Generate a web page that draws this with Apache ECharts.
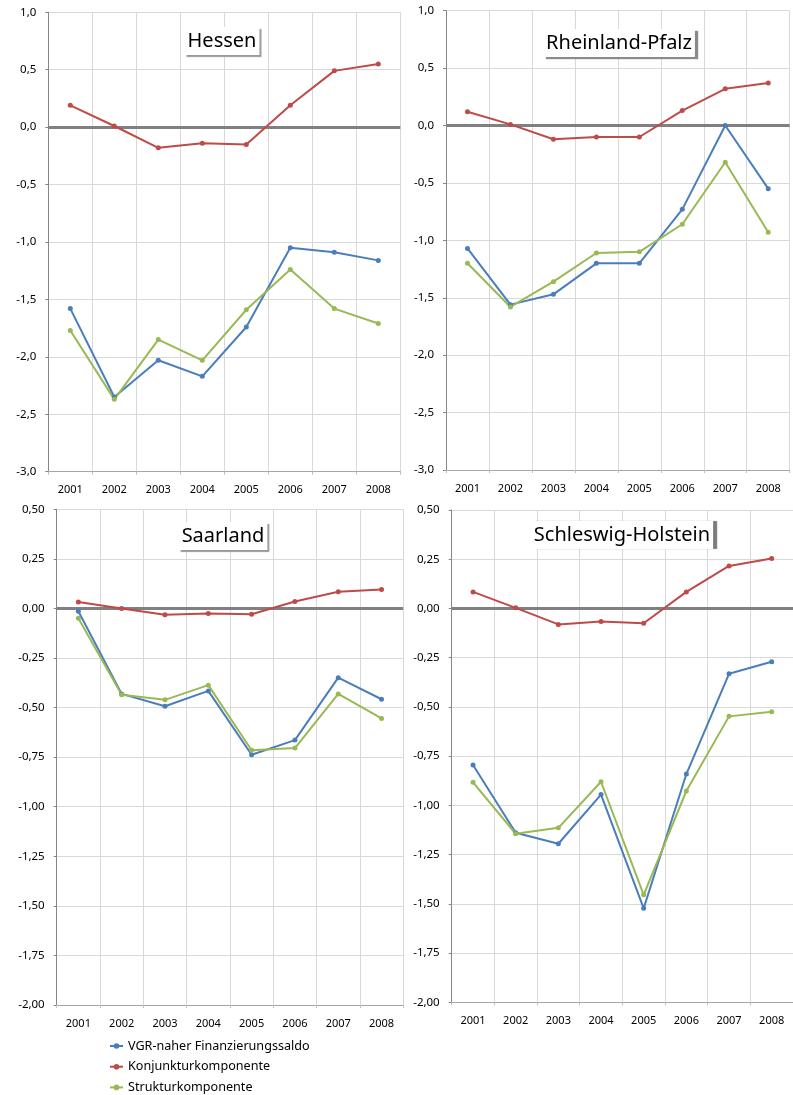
<!DOCTYPE html>
<html>
<head>
<meta charset="utf-8">
<script src="https://cdn.jsdelivr.net/npm/echarts@6/dist/echarts.min.js"></script>
<style>
  html, body { margin: 0; padding: 0; background: #ffffff; }
  #chart { width: 793px; height: 1095px; }
</style>
</head>
<body>
<div id="chart"></div>
<script>
// Years on the category axis
const years = ['2001', '2002', '2003', '2004', '2005', '2006', '2007', '2008'];

// Series names (shared legend)
const seriesNames = ['VGR-naher Finanzierungssaldo', 'Konjunkturkomponente', 'Strukturkomponente'];

// Hessen
const hessenSaldo      = [-1.58, -2.35, -2.03, -2.17, -1.74, -1.05, -1.09, -1.16];
const hessenKonjunktur = [ 0.19,  0.01, -0.18, -0.14, -0.15,  0.19,  0.49,  0.55];
const hessenStruktur   = [-1.77, -2.37, -1.85, -2.03, -1.59, -1.24, -1.58, -1.71];

// Rheinland-Pfalz
const rlpSaldo      = [-1.07, -1.56, -1.47, -1.20, -1.20, -0.73,  0.00, -0.55];
const rlpKonjunktur = [ 0.12,  0.01, -0.12, -0.10, -0.10,  0.13,  0.32,  0.37];
const rlpStruktur   = [-1.20, -1.58, -1.36, -1.11, -1.10, -0.86, -0.32, -0.93];

// Saarland
const saarSaldo      = [-0.014, -0.431, -0.493, -0.416, -0.738, -0.664, -0.349, -0.458];
const saarKonjunktur = [ 0.033,  0.000, -0.032, -0.025, -0.029,  0.035,  0.084,  0.096];
const saarStruktur   = [-0.049, -0.435, -0.461, -0.387, -0.715, -0.704, -0.431, -0.555];

// Schleswig-Holstein
const shSaldo      = [-0.795, -1.139, -1.195, -0.945, -1.523, -0.841, -0.332, -0.271];
const shKonjunktur = [ 0.084,  0.003, -0.081, -0.066, -0.075,  0.084,  0.216,  0.254];
const shStruktur   = [-0.883, -1.144, -1.114, -0.880, -1.454, -0.927, -0.548, -0.525];

const colors = ['#4A7EBB', '#BE4B48', '#98B954'];
const FONT = 'Noto Sans';

const panels = [
  { name: 'Hessen', data: [hessenSaldo, hessenKonjunktur, hessenStruktur],
    min: -3, max: 1, interval: 0.5, decimals: 1,
    grid: { left: 48.3, top: 12.3, width: 352, height: 459.4 },
    title: { x: 219, y: 27, dx: 2, dy: 2, shadow: '#9a9a9a' } },
  { name: 'Rheinland-Pfalz', data: [rlpSaldo, rlpKonjunktur, rlpStruktur],
    min: -3, max: 1, interval: 0.5, decimals: 1,
    grid: { left: 446, top: 10.7, width: 343.7, height: 459.3 },
    title: { x: 616, y: 29, dx: 3, dy: 2, shadow: '#8a8a8a' } },
  { name: 'Saarland', data: [saarSaldo, saarKonjunktur, saarStruktur],
    min: -2, max: 0.5, interval: 0.25, decimals: 2,
    grid: { left: 56.7, top: 509.3, width: 346.5, height: 495.7 },
    title: { x: 220, y: 522, dx: 2, dy: 2, shadow: '#9a9a9a' } },
  { name: 'Schleswig-Holstein', data: [shSaldo, shKonjunktur, shStruktur],
    min: -2, max: 0.5, interval: 0.25, decimals: 2,
    grid: { left: 451.7, top: 510, width: 346.3, height: 492.3 },
    title: { x: 619, y: 521, dx: 4, dy: 0, shadow: '#7a7a7a' } }
];

const chart = echarts.init(document.getElementById('chart'), null, { renderer: 'canvas' });

const option = {
  animation: false,
  backgroundColor: '#ffffff',
  title: panels.map(p => ({
    text: p.name,
    left: p.title.x,
    top: p.title.y,
    textAlign: 'center',
    backgroundColor: '#ffffff',
    padding: [2, 3, 2, 3],
    shadowColor: p.title.shadow,
    shadowOffsetX: p.title.dx,
    shadowOffsetY: p.title.dy,
    shadowBlur: 1,
    textStyle: { fontFamily: FONT, fontSize: 20, fontWeight: 'normal', color: '#000000', lineHeight: 24 }
  })),
  legend: {
    orient: 'vertical',
    left: 109,
    top: 1039.5,
    padding: 0,
    itemWidth: 13,
    itemHeight: 7,
    itemGap: 7.7,
    data: seriesNames,
    textStyle: { fontFamily: FONT, fontSize: 12.6, color: '#000000', lineHeight: 13 }
  },
  grid: panels.map(p => Object.assign({ containLabel: false }, p.grid)),
  xAxis: panels.map((p, i) => ({
    gridIndex: i,
    type: 'category',
    data: years,
    boundaryGap: true,
    axisLine: { show: true, onZero: false, lineStyle: { color: '#a6a6a6', width: 1 } },
    axisTick: { show: true, length: 3, lineStyle: { color: '#bfbfbf' } },
    axisLabel: { interval: 0, margin: 13, fontFamily: FONT, fontSize: 11, color: '#000000' },
    splitLine: { show: true, lineStyle: { color: '#d9d9d9', width: 1 } }
  })),
  yAxis: panels.map((p, i) => ({
    gridIndex: i,
    type: 'value',
    min: p.min,
    max: p.max,
    interval: p.interval,
    axisLine: { show: true, lineStyle: { color: '#868686', width: 1 } },
    axisTick: { show: true, length: 3, lineStyle: { color: '#868686' } },
    axisLabel: {
      margin: 12, fontFamily: FONT, fontSize: 11.5, color: '#000000',
      formatter: v => v.toFixed(p.decimals).replace('.', ',')
    },
    splitLine: { show: true, lineStyle: { color: '#d9d9d9', width: 1 } }
  })),
  series: panels.flatMap((p, i) => p.data.map((values, k) => {
    const s = {
      name: seriesNames[k],
      type: 'line',
      xAxisIndex: i,
      yAxisIndex: i,
      data: values,
      color: colors[k],
      symbol: 'circle',
      symbolSize: 5,
      lineStyle: { width: 2, color: colors[k] },
      itemStyle: { color: colors[k] },
      z: 3
    };
    if (k === 0) {
      // horizontal zero line across the plot
      s.markLine = {
        silent: true,
        symbol: 'none',
        z: 1,
        label: { show: false },
        lineStyle: { color: '#808080', width: 3, type: 'solid' },
        emphasis: { disabled: true },
        data: [{ yAxis: 0 }]
      };
    }
    return s;
  }))
};

chart.setOption(option);
</script>
</body>
</html>
